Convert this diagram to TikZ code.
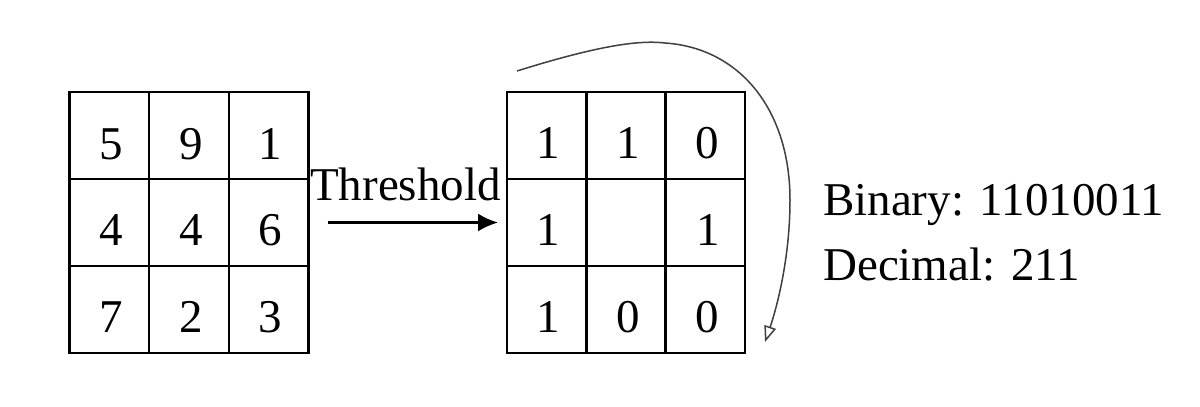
\documentclass[tikz,border=0pt]{standalone}
\usepackage{fontspec}
\setmainfont{Liberation Serif}
\usetikzlibrary{arrows.meta}
\begin{document}
\begin{tikzpicture}[x=1pt,y=-1pt,
  cellbox/.style={draw=black,line width=2.4pt,minimum width=#1,minimum height=87pt,inner sep=0pt,outer sep=0pt},
  cellbox/.default=79.67pt,
  numtxt/.style={anchor=base,inner sep=0pt,font=\fontsize{47}{56}\selectfont},
  lbl/.style={anchor=base west,inner sep=0pt,font=\fontsize{47}{56}\selectfont}]
\useasboundingbox[fill=white] (0,0) rectangle (1200,407);
% left grid
\foreach \r/\cy in {1/135.5,2/222.5,3/309.5}{
  \foreach \c/\cx in {1/109.33,2/189,3/268.67}{
    \node[cellbox] (L\r\c) at (\cx,\cy) {};
  }}
\foreach \r/\by in {1/159,2/245,3/332}{
  \foreach \c/\cx in {1/111,2/191,3/270}{
    \coordinate (LT\r\c) at (\cx,\by);
  }}
\node[numtxt] (l11) at (LT11) {5};
\node[numtxt] (l12) at (LT12) {9};
\node[numtxt] (l13) at (LT13) {1};
\node[numtxt] (l21) at (LT21) {4};
\node[numtxt] (l22) at (LT22) {4};
\node[numtxt] (l23) at (LT23) {6};
\node[numtxt] (l31) at (LT31) {7};
\node[numtxt] (l32) at (LT32) {2};
\node[numtxt] (l33) at (LT33) {3};
% right grid
\foreach \r/\cy in {1/135.5,2/222.5,3/309.5}{
  \foreach \c/\cx in {1/546.67,2/626,3/705.33}{
    \node[cellbox=79.33pt] (R\r\c) at (\cx,\cy) {};
  }}
\node[numtxt] (r11) at (548,158) {1};
\node[numtxt] (r12) at (628,158) {1};
\node[numtxt] (r13) at (707,158) {0};
\node[numtxt] (r21) at (548,245) {1};
\node[numtxt] (r23) at (708,245) {1};
\node[numtxt] (r31) at (548,332) {1};
\node[numtxt] (r32) at (628,332) {0};
\node[numtxt] (r33) at (707,332) {0};
% threshold arrow
\node[lbl] (thr) at (310,200) {Threshold};
\draw[line width=2.4pt,-{Latex[length=20pt,width=18pt]}] ([xshift=19pt]L23.east) -- ([xshift=-9pt]R21.west);
% curved arrow
\coordinate (cs) at (517,71);
\coordinate (ce) at (765,342);
\draw[line width=1.5pt,draw=black!75,-{Triangle[open,length=16pt,width=12pt]}]
  (cs) .. controls (600,45) and (640,40) .. (665,43)
       .. controls (740,48) and (790,110) .. (790,200)
       .. controls (790,260) and (776,310) .. (ce);
% result text
\node[lbl] (bin) at (823,215) {Binary: 11010011};
\node[lbl] (dec) at (823,280) {Decimal: 211};
\end{tikzpicture}
\end{document}
